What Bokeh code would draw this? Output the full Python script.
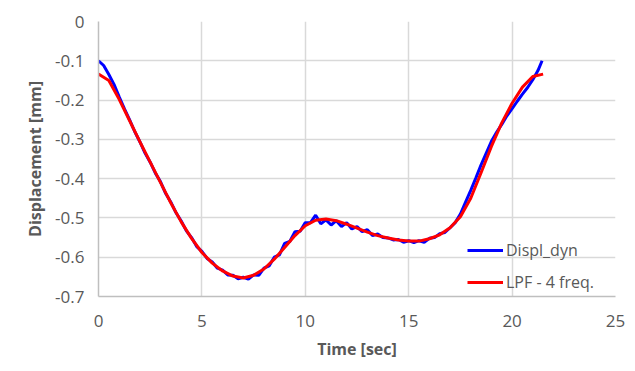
from bokeh.plotting import figure
from bokeh.models import Range1d, FixedTicker, Legend
from bokeh.embed import file_html
from bokeh.resources import INLINE

# ---- data ----
time_dyn = [0.0, 0.25, 0.5, 0.75, 1.0, 1.25, 1.5, 1.75, 2.0, 2.25, 2.5, 2.75,
            3.0, 3.25, 3.5, 3.75, 4.0, 4.25, 4.5, 4.75, 5.0, 5.25, 5.5, 5.75,
            6.0, 6.25, 6.5, 6.75, 7.0, 7.25, 7.5, 7.75, 8.0, 8.25, 8.5, 8.75,
            9.0, 9.25, 9.5, 9.75, 10.0, 10.25, 10.5, 10.75, 11.0, 11.25, 11.5,
            11.75, 12.0, 12.25, 12.5, 12.75, 13.0, 13.25, 13.5, 13.75, 14.0,
            14.25, 14.5, 14.75, 15.0, 15.25, 15.5, 15.75, 16.0, 16.25, 16.5,
            16.75, 17.0, 17.25, 17.5, 17.75, 18.0, 18.25, 18.5, 18.75, 19.0,
            19.25, 19.5, 19.75, 20.0, 20.25, 20.5, 20.75, 21.0, 21.25, 21.45]
displ_dyn = [-0.100, -0.112, -0.135, -0.160, -0.192, -0.222, -0.250, -0.280,
             -0.306, -0.335, -0.358, -0.386, -0.408, -0.438, -0.460, -0.487,
             -0.508, -0.533, -0.550, -0.573, -0.585, -0.603, -0.612, -0.628,
             -0.633, -0.645, -0.646, -0.655, -0.651, -0.656, -0.645, -0.646,
             -0.628, -0.622, -0.600, -0.594, -0.565, -0.560, -0.535, -0.534,
             -0.512, -0.512, -0.493, -0.515, -0.505, -0.518, -0.507, -0.522,
             -0.512, -0.528, -0.522, -0.535, -0.530, -0.545, -0.541, -0.550,
             -0.551, -0.556, -0.555, -0.562, -0.558, -0.563, -0.558, -0.562,
             -0.552, -0.550, -0.540, -0.537, -0.525, -0.512, -0.490, -0.460,
             -0.430, -0.398, -0.365, -0.335, -0.305, -0.282, -0.262, -0.240,
             -0.222, -0.203, -0.185, -0.168, -0.148, -0.125, -0.100]

time_lpf = [0.0, 0.5, 1.0, 1.5, 2.0, 2.5, 3.0, 3.5, 4.0, 4.5, 5.0, 5.5, 6.0,
            6.5, 7.0, 7.5, 8.0, 8.5, 9.0, 9.5, 10.0, 10.5, 11.0, 11.5, 12.0,
            12.5, 13.0, 13.5, 14.0, 14.5, 15.0, 15.5, 16.0, 16.5, 17.0, 17.5,
            18.0, 18.5, 19.0, 19.5, 20.0, 20.5, 21.0, 21.5]
displ_lpf = [-0.134, -0.150, -0.198, -0.252, -0.306, -0.358, -0.410, -0.462,
             -0.510, -0.552, -0.588, -0.615, -0.635, -0.648, -0.653, -0.646,
             -0.630, -0.605, -0.575, -0.545, -0.520, -0.506, -0.503, -0.507,
             -0.516, -0.526, -0.536, -0.545, -0.551, -0.556, -0.559, -0.559,
             -0.553, -0.543, -0.525, -0.497, -0.450, -0.385, -0.318, -0.258,
             -0.208, -0.167, -0.140, -0.134]

x_ticks = [0, 5, 10, 15, 20, 25]
y_ticks = [0, -0.1, -0.2, -0.3, -0.4, -0.5, -0.6, -0.7]
y_tick_labels = ["0", "-0.1", "-0.2", "-0.3", "-0.4", "-0.5", "-0.6", "-0.7"]

series_names = ["Displ_dyn", "LPF - 4 freq."]
x_title = "Time [sec]"
y_title = "Displacement [mm]"

# ---- figure ----
FONT = "Open Sans"
TEXT = "#595959"
GRID = "#d9d9d9"

p = figure(width=626, height=362, output_backend="svg", toolbar_location=None,
           x_range=Range1d(0, 25), y_range=Range1d(-0.7, 0))
p.min_border_left = 98
p.min_border_right = 11
p.min_border_top = 21
p.min_border_bottom = 63
p.outline_line_color = None
p.background_fill_color = "white"
p.border_fill_color = "white"

p.xaxis.ticker = FixedTicker(ticks=x_ticks)
p.yaxis.ticker = FixedTicker(ticks=y_ticks)
p.yaxis.major_label_overrides = {t: l for t, l in zip(y_ticks, y_tick_labels)}

for ax in (p.xaxis[0], p.yaxis[0]):
    ax.major_tick_line_color = None
    ax.minor_tick_line_color = None
    ax.axis_line_color = "#bfbfbf"
    ax.axis_line_width = 1.5
    ax.major_label_text_font = FONT
    ax.major_label_text_font_size = "17px"
    ax.major_label_text_color = TEXT
    ax.axis_label_text_font = FONT
    ax.axis_label_text_font_size = "16px"
    ax.axis_label_text_font_style = "bold"
    ax.axis_label_text_color = TEXT

p.xaxis.axis_label = x_title
p.yaxis.axis_label = y_title
p.xaxis.major_label_standoff = 12
p.xaxis.axis_label_standoff = 8
p.yaxis.major_label_standoff = 8
p.yaxis.axis_label_standoff = 6

p.xgrid.grid_line_color = GRID
p.ygrid.grid_line_color = GRID
p.xgrid.grid_line_width = 1.5
p.ygrid.grid_line_width = 1.5

r_dyn = p.line(time_dyn, displ_dyn, line_color="#0000ff", line_width=3)
r_lpf = p.line(time_lpf, displ_lpf, line_color="#ff0000", line_width=3)

legend = Legend(items=[(series_names[0], [r_dyn]), (series_names[1], [r_lpf])],
                location=(369, 3))
legend.background_fill_alpha = 0
legend.border_line_alpha = 0
legend.padding = 0
legend.margin = 0
legend.spacing = 10
legend.glyph_width = 36
legend.glyph_height = 20
legend.label_height = 20
legend.label_standoff = 3
legend.label_text_font = FONT
legend.label_text_font_size = "16px"
legend.label_text_color = TEXT
p.add_layout(legend, "center")

open("out.html", "w").write(file_html(p, INLINE))
